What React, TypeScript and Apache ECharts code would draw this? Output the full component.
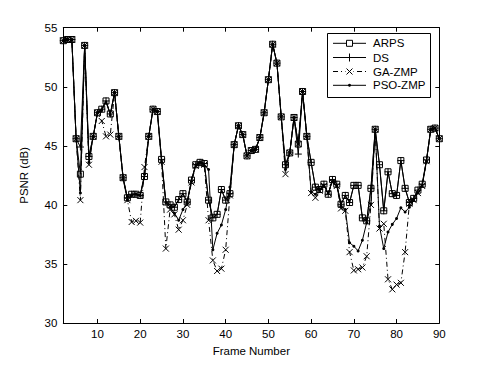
import React, { useEffect, useRef } from "react";
import * as echarts from "echarts";

const FIRST_FRAME = 2;
const xTicks = [10, 20, 30, 40, 50, 60, 70, 80, 90];
const seriesNames = ["ARPS", "DS", "GA-ZMP", "PSO-ZMP"];

const arps = [
  53.9, 54.0, 54.0, 45.6, 42.6, 53.5, 44.1, 45.8, 47.8, 48.1,
  48.8, 47.7, 49.5, 45.8, 42.3, 40.6, 40.9, 40.9, 40.8, 42.4,
  45.8, 48.1, 47.9, 43.85, 40.25, 40.0, 39.8, 40.45, 40.95, 40.25,
  42.1, 43.4, 43.6, 43.5, 40.4, 38.9, 39.2, 41.3, 40.4, 40.95,
  45.1, 46.7, 45.95, 44.15, 44.6, 44.7, 45.7, 47.8, 50.6, 53.6,
  52.0, 47.45, 43.4, 44.4, 47.4, 45.15, 49.6, 45.8, 43.6, 41.5,
  41.3, 41.75, 40.9, 42.15, 41.75, 40.05, 40.8, 40.2, 41.65, 41.65,
  38.9, 38.65, 41.4, 46.4, 43.4, 39.5, 42.8, 40.95, 40.8, 43.75,
  41.4, 40.2, 40.55, 41.25, 41.75, 43.8, 46.4, 46.5, 45.6,
];

const ds = [
  53.9, 54.0, 54.0, 45.6, 44.9, 53.5, 44.1, 45.8, 47.8, 48.1,
  48.8, 47.7, 49.5, 45.8, 42.3, 40.6, 40.9, 40.9, 40.8, 42.4,
  45.8, 48.1, 47.9, 43.85, 40.25, 40.0, 39.8, 40.45, 40.95, 40.25,
  42.1, 43.4, 43.6, 43.5, 40.4, 38.9, 39.2, 41.3, 40.4, 40.95,
  45.1, 46.7, 45.95, 44.15, 44.6, 44.7, 45.7, 47.8, 50.6, 53.6,
  52.0, 47.45, 43.4, 44.4, 47.4, 44.3, 49.6, 45.8, 43.6, 41.5,
  41.3, 41.75, 40.9, 42.15, 41.75, 40.05, 40.8, 40.2, 41.65, 41.65,
  38.9, 38.65, 41.4, 46.4, 43.4, 39.5, 42.8, 40.95, 40.8, 43.75,
  41.4, 40.2, 40.55, 41.25, 41.75, 43.8, 46.4, 46.5, 45.6,
];

const gaZmp = [
  53.9, 54.0, 54.0, 45.6, 40.4, 53.5, 43.4, 45.8, 47.8, 47.1,
  45.8, 45.95, 49.5, 45.8, 42.3, 40.4, 38.55, 38.65, 38.5, 43.2,
  45.8, 48.1, 47.9, 43.65, 36.3, 39.6, 39.2, 37.9, 38.7, 40.0,
  41.9, 43.3, 43.5, 43.4, 38.7, 35.3, 34.4, 34.6, 36.2, 40.8,
  45.1, 46.7, 45.95, 44.15, 44.6, 44.7, 45.7, 47.8, 50.6, 53.6,
  52.0, 47.45, 42.6, 44.4, 47.4, 45.15, 49.6, 45.8, 41.0, 40.6,
  41.2, 41.6, 41.0, 41.9, 41.6, 39.7, 39.5, 36.0, 34.45, 34.55,
  34.7, 35.65, 40.0, 46.4, 38.0, 38.4, 33.7, 32.85, 33.25, 33.4,
  36.0, 40.1, 40.4, 41.0, 41.6, 43.7, 46.4, 46.5, 45.6,
];

const psoZmp = [
  53.9, 54.0, 54.0, 45.6, 41.0, 53.5, 43.6, 45.8, 47.8, 48.0,
  48.7, 47.6, 49.5, 45.8, 42.2, 40.4, 40.8, 40.9, 40.8, 42.6,
  45.8, 48.1, 47.9, 43.6, 40.2, 39.8, 39.3, 38.7, 39.6, 40.2,
  42.0, 43.4, 43.6, 43.3, 43.0, 36.2, 37.6, 38.3, 39.6, 41.5,
  45.1, 46.7, 45.95, 44.15, 44.6, 44.7, 45.7, 47.8, 50.6, 53.6,
  52.0, 47.45, 43.0, 44.4, 47.4, 45.15, 49.6, 45.8, 41.1, 40.9,
  41.3, 41.6, 41.0, 42.0, 41.6, 39.9, 39.6, 36.8, 36.5, 36.1,
  37.0, 38.5, 40.1, 46.4, 38.2, 36.3, 37.7, 38.35, 38.85, 39.75,
  39.4, 39.8, 40.4, 41.0, 41.6, 43.7, 46.4, 46.5, 45.6,
];

const FONT = "'Liberation Sans', Arial, Helvetica, sans-serif";
const GA_DASH = [5, 3, 1, 3];

function toPoints(values: number[]) {
  return values.map((v, i) => [FIRST_FRAME + i, v]);
}

function legendGraphics() {
  const boxX = 327.5;
  const boxY = 33.5;
  const boxW = 103;
  const boxH = 64;
  const x1 = 333;
  const x2 = 366;
  const mx = (x1 + x2) / 2;
  const textX = 373;
  const rowY = [43.3, 57.5, 71.5, 85.3];
  const els: any[] = [
    {
      type: "rect",
      shape: { x: boxX, y: boxY, width: boxW, height: boxH },
      style: { fill: "#fff", stroke: "#000", lineWidth: 1 },
      z: 100,
    },
  ];
  seriesNames.forEach((name, i) => {
    const y = rowY[i];
    els.push({
      type: "line",
      shape: { x1, y1: y, x2, y2: y },
      style: { stroke: "#000", lineWidth: 1, lineDash: i === 2 ? GA_DASH : null },
      z: 101,
    });
    if (i === 0) {
      els.push({
        type: "rect",
        shape: { x: mx - 3, y: y - 3, width: 6, height: 6 },
        style: { fill: "#fff", stroke: "#000", lineWidth: 1 },
        z: 102,
      });
    } else if (i === 1) {
      els.push({ type: "line", shape: { x1: mx, y1: y - 4, x2: mx, y2: y + 4 }, style: { stroke: "#000", lineWidth: 1 }, z: 102 });
    } else if (i === 2) {
      els.push({
        type: "rect",
        shape: { x: mx - 4, y: y - 4, width: 8, height: 8 },
        style: { fill: "#fff", stroke: null },
        z: 101.5,
      });
      els.push({ type: "line", shape: { x1: mx - 3, y1: y - 3, x2: mx + 3, y2: y + 3 }, style: { stroke: "#000", lineWidth: 1 }, z: 102 });
      els.push({ type: "line", shape: { x1: mx - 3, y1: y + 3, x2: mx + 3, y2: y - 3 }, style: { stroke: "#000", lineWidth: 1 }, z: 102 });
    } else {
      els.push({ type: "circle", shape: { cx: mx, cy: y, r: 1.5 }, style: { fill: "#000" }, z: 102 });
    }
    els.push({
      type: "text",
      x: textX,
      y,
      style: { text: name, fill: "#000", font: `11.5px ${FONT}`, verticalAlign: "middle", align: "left" },
      z: 102,
    });
  });
  return els;
}

export default function App() {
  const ref = useRef<HTMLDivElement>(null);

  useEffect(() => {
    document.body.style.margin = "0";
    if (!ref.current) return;
    const chart = echarts.init(ref.current, null, { renderer: "svg" });

    const axisLine = { show: true, lineStyle: { color: "#000", width: 1 } };
    const tick = { show: true, inside: true, length: 4, lineStyle: { color: "#000", width: 1 } };

    const lineBase = (name: string, data: number[], extra: any) => ({
      name,
      type: "line",
      data: toPoints(data),
      xAxisIndex: 0,
      yAxisIndex: 0,
      color: "#000",
      lineStyle: { color: "#000", width: 1, type: "solid" },
      emphasis: { disabled: true },
      ...extra,
    });

    chart.setOption({
      animation: false,
      backgroundColor: "#fff",
      textStyle: { fontFamily: FONT },
      grid: { left: 63.3, right: 45.7, top: 27.7, bottom: 42, containLabel: false },
      legend: { show: false },
      graphic: legendGraphics(),
      xAxis: [
        {
          type: "value",
          min: 2,
          max: 90,
          position: "bottom",
          axisLine,
          axisTick: { ...tick, customValues: xTicks },
          axisLabel: { customValues: xTicks, color: "#000", fontSize: 11.5, margin: 5, fontFamily: FONT },
          splitLine: { show: false },
          name: "Frame Number",
          nameLocation: "middle",
          nameGap: 19,
          nameTextStyle: { fontSize: 11.5, color: "#000", fontFamily: FONT },
        },
        {
          type: "value",
          min: 2,
          max: 90,
          position: "top",
          axisLine,
          axisTick: { ...tick, customValues: xTicks },
          axisLabel: { show: false },
          splitLine: { show: false },
        },
      ],
      yAxis: [
        {
          type: "value",
          min: 30,
          max: 55,
          interval: 5,
          position: "left",
          axisLine,
          axisTick: tick,
          axisLabel: { color: "#000", fontSize: 11.5, margin: 6, fontFamily: FONT },
          splitLine: { show: false },
          name: "PSNR (dB)",
          nameLocation: "middle",
          nameGap: 33,
          nameTextStyle: { fontSize: 11.5, color: "#000", fontFamily: FONT },
        },
        {
          type: "value",
          min: 30,
          max: 55,
          interval: 5,
          position: "right",
          axisLine,
          axisTick: tick,
          axisLabel: { show: false },
          splitLine: { show: false },
        },
      ],
      series: [
        lineBase("ARPS", arps, {
          symbol: "rect",
          symbolSize: 6,
          itemStyle: { color: "transparent", borderColor: "#000", borderWidth: 1 },
          z: 4,
        }),
        lineBase("DS", ds, {
          symbol: "path://M5,0L5,10M0,5L10,5",
          symbolSize: 7,
          itemStyle: { color: "transparent", borderColor: "#000", borderWidth: 1 },
          z: 3,
        }),
        lineBase("GA-ZMP", gaZmp, {
          symbol: "path://M0,0L10,10M10,0L0,10",
          symbolSize: 6,
          lineStyle: { color: "#000", width: 1, type: GA_DASH },
          itemStyle: { color: "transparent", borderColor: "#000", borderWidth: 1 },
          z: 2,
        }),
        lineBase("PSO-ZMP", psoZmp, {
          symbol: "circle",
          symbolSize: 3,
          itemStyle: { color: "#000", borderWidth: 0 },
          z: 5,
        }),
      ],
    });

    return () => chart.dispose();
  }, []);

  return <div ref={ref} style={{ width: 485, height: 365 }} />;
}
